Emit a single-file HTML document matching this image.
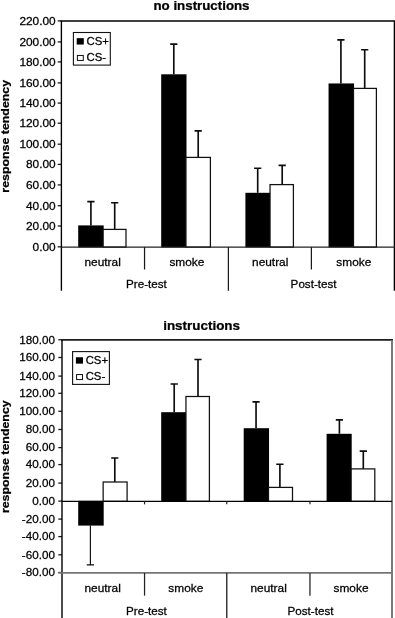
<!DOCTYPE html>
<html><head><meta charset="utf-8"><title>response tendency</title>
<style>
html,body{margin:0;padding:0;background:#fff;}
body{width:395px;height:618px;overflow:hidden;font-family:"Liberation Sans",sans-serif;}
svg{display:block;filter:grayscale(1);}
text{font-family:"Liberation Sans",sans-serif;fill:#000;stroke:#000;stroke-width:0.25px;}
.b{font-weight:bold;}
</style></head><body>
<svg width="395" height="618" viewBox="0 0 395 618">
<rect x="0" y="0" width="395" height="618" fill="#fff"/>
<g>
<text class="b" transform="translate(201.5 10) scale(1.11 1)" font-size="12" text-anchor="middle">no instructions</text>
<text class="b" transform="translate(8.6 136.3) rotate(-90) scale(1.18 1)" font-size="10.5" text-anchor="middle">response tendency</text>
<text transform="translate(55.7 24.8) scale(1.08 1)" font-size="11" text-anchor="end">220.00</text>
<line x1="57.7" y1="20.9" x2="61.4" y2="20.9" stroke="#1c1c1c" stroke-width="1.3"/>
<text transform="translate(55.7 45.8) scale(1.08 1)" font-size="11" text-anchor="end">200.00</text>
<line x1="57.7" y1="41.9" x2="61.4" y2="41.9" stroke="#1c1c1c" stroke-width="1.3"/>
<text transform="translate(55.7 65.8) scale(1.08 1)" font-size="11" text-anchor="end">180.00</text>
<line x1="57.7" y1="61.9" x2="61.4" y2="61.9" stroke="#1c1c1c" stroke-width="1.3"/>
<text transform="translate(55.7 86.8) scale(1.08 1)" font-size="11" text-anchor="end">160.00</text>
<line x1="57.7" y1="82.9" x2="61.4" y2="82.9" stroke="#1c1c1c" stroke-width="1.3"/>
<text transform="translate(55.7 107) scale(1.08 1)" font-size="11" text-anchor="end">140.00</text>
<line x1="57.7" y1="103.1" x2="61.4" y2="103.1" stroke="#1c1c1c" stroke-width="1.3"/>
<text transform="translate(55.7 127.1) scale(1.08 1)" font-size="11" text-anchor="end">120.00</text>
<line x1="57.7" y1="123.2" x2="61.4" y2="123.2" stroke="#1c1c1c" stroke-width="1.3"/>
<text transform="translate(55.7 148.1) scale(1.08 1)" font-size="11" text-anchor="end">100.00</text>
<line x1="57.7" y1="144.2" x2="61.4" y2="144.2" stroke="#1c1c1c" stroke-width="1.3"/>
<text transform="translate(55.7 168.3) scale(1.08 1)" font-size="11" text-anchor="end">80.00</text>
<line x1="57.7" y1="164.4" x2="61.4" y2="164.4" stroke="#1c1c1c" stroke-width="1.3"/>
<text transform="translate(55.7 188.8) scale(1.08 1)" font-size="11" text-anchor="end">60.00</text>
<line x1="57.7" y1="184.9" x2="61.4" y2="184.9" stroke="#1c1c1c" stroke-width="1.3"/>
<text transform="translate(55.7 209.6) scale(1.08 1)" font-size="11" text-anchor="end">40.00</text>
<line x1="57.7" y1="205.7" x2="61.4" y2="205.7" stroke="#1c1c1c" stroke-width="1.3"/>
<text transform="translate(55.7 229.9) scale(1.08 1)" font-size="11" text-anchor="end">20.00</text>
<line x1="57.7" y1="226" x2="61.4" y2="226" stroke="#1c1c1c" stroke-width="1.3"/>
<text transform="translate(55.7 250.75) scale(1.08 1)" font-size="11" text-anchor="end">0.00</text>
<line x1="57.7" y1="246.85" x2="61.4" y2="246.85" stroke="#1c1c1c" stroke-width="1.3"/>
<path d="M90.9 225.4V201.6M87.3 201.6H94.5" stroke="#0c0c0c" stroke-width="1.65" fill="none"/>
<path d="M114.7 229.4V202.7M111.1 202.7H118.3" stroke="#0c0c0c" stroke-width="1.65" fill="none"/>
<rect x="78.2" y="225.4" width="25.5" height="22" fill="#000"/>
<rect x="103.15" y="229.4" width="22.85" height="17.7" fill="#fff" stroke="#111" stroke-width="1.25"/>
<path d="M173.8 74.3V44.05M170.2 44.05H177.4" stroke="#0c0c0c" stroke-width="1.65" fill="none"/>
<path d="M198.2 157.4V130.9M194.6 130.9H201.8" stroke="#0c0c0c" stroke-width="1.65" fill="none"/>
<rect x="161.2" y="74.3" width="25.3" height="173.1" fill="#000"/>
<rect x="185.95" y="157.4" width="24.45" height="89.7" fill="#fff" stroke="#111" stroke-width="1.25"/>
<path d="M257.7 192.8V168.2M254.1 168.2H261.3" stroke="#0c0c0c" stroke-width="1.65" fill="none"/>
<path d="M282.2 184.6V165.4M278.6 165.4H285.8" stroke="#0c0c0c" stroke-width="1.65" fill="none"/>
<rect x="245.4" y="192.8" width="25.2" height="54.6" fill="#000"/>
<rect x="270.05" y="184.6" width="23.35" height="62.5" fill="#fff" stroke="#111" stroke-width="1.25"/>
<path d="M340.9 83.45V39.9M337.3 39.9H344.5" stroke="#0c0c0c" stroke-width="1.65" fill="none"/>
<path d="M364.7 88.4V49.7M361.1 49.7H368.3" stroke="#0c0c0c" stroke-width="1.65" fill="none"/>
<rect x="328.55" y="83.45" width="25.5" height="163.95" fill="#000"/>
<rect x="353.5" y="88.4" width="22.9" height="158.7" fill="#fff" stroke="#111" stroke-width="1.25"/>
<line x1="60.6" y1="21" x2="395.3" y2="21" stroke="#000" stroke-width="1.5"/>
<line x1="61.4" y1="21" x2="61.4" y2="290.8" stroke="#000" stroke-width="1.35"/>
<line x1="394.5" y1="21" x2="394.5" y2="290.8" stroke="#000" stroke-width="1.6"/>
<line x1="61.4" y1="247.1" x2="394.5" y2="247.1" stroke="#222" stroke-width="1.3"/>
<line x1="144.55" y1="247.1" x2="144.55" y2="269.5" stroke="#1a1a1a" stroke-width="1.25"/>
<line x1="228.4" y1="247.1" x2="228.4" y2="290.8" stroke="#1a1a1a" stroke-width="1.25"/>
<line x1="311.4" y1="247.1" x2="311.4" y2="269.5" stroke="#1a1a1a" stroke-width="1.25"/>
<text transform="translate(102.65 266.4) scale(1.08 1)" font-size="11" text-anchor="middle">neutral</text>
<text transform="translate(186.9 266.4) scale(1.08 1)" font-size="11" text-anchor="middle">smoke</text>
<text transform="translate(270.2 266.4) scale(1.08 1)" font-size="11" text-anchor="middle">neutral</text>
<text transform="translate(353.8 266.4) scale(1.08 1)" font-size="11" text-anchor="middle">smoke</text>
<text transform="translate(146.4 287.6) scale(1.06 1)" font-size="11" text-anchor="middle">Pre-test</text>
<text transform="translate(313.6 287.6) scale(1.06 1)" font-size="11" text-anchor="middle">Post-test</text>
<rect x="73.4" y="32.5" width="36.9" height="32.6" fill="#fff" stroke="#111" stroke-width="1.1"/>
<rect x="76.7" y="38.15" width="7.1" height="6.4" fill="#000"/>
<rect x="77.4" y="55.45" width="5.9" height="5" fill="#fff" stroke="#111" stroke-width="1"/>
<text transform="translate(86.5 44.6) scale(1.08 1)" font-size="10.5" text-anchor="start">CS+</text>
<text transform="translate(86.5 60.75) scale(1.08 1)" font-size="10.5" text-anchor="start">CS-</text>
</g>
<g>
<text class="b" transform="translate(201.6 330) scale(1.12 1)" font-size="12" text-anchor="middle">instructions</text>
<text class="b" transform="translate(8.6 456.7) rotate(-90) scale(1.18 1)" font-size="10.5" text-anchor="middle">response tendency</text>
<text transform="translate(54.9 343.55) scale(1.08 1)" font-size="10.8" text-anchor="end">180.00</text>
<line x1="58.3" y1="339.75" x2="62" y2="339.75" stroke="#1c1c1c" stroke-width="1.3"/>
<text transform="translate(54.9 361.3) scale(1.08 1)" font-size="10.8" text-anchor="end">160.00</text>
<line x1="58.3" y1="357.5" x2="62" y2="357.5" stroke="#1c1c1c" stroke-width="1.3"/>
<text transform="translate(54.9 379.9) scale(1.08 1)" font-size="10.8" text-anchor="end">140.00</text>
<line x1="58.3" y1="376.1" x2="62" y2="376.1" stroke="#1c1c1c" stroke-width="1.3"/>
<text transform="translate(54.9 397.1) scale(1.08 1)" font-size="10.8" text-anchor="end">120.00</text>
<line x1="58.3" y1="393.3" x2="62" y2="393.3" stroke="#1c1c1c" stroke-width="1.3"/>
<text transform="translate(54.9 415.1) scale(1.08 1)" font-size="10.8" text-anchor="end">100.00</text>
<line x1="58.3" y1="411.3" x2="62" y2="411.3" stroke="#1c1c1c" stroke-width="1.3"/>
<text transform="translate(54.9 433.3) scale(1.08 1)" font-size="10.8" text-anchor="end">80.00</text>
<line x1="58.3" y1="429.5" x2="62" y2="429.5" stroke="#1c1c1c" stroke-width="1.3"/>
<text transform="translate(54.9 451.4) scale(1.08 1)" font-size="10.8" text-anchor="end">60.00</text>
<line x1="58.3" y1="447.6" x2="62" y2="447.6" stroke="#1c1c1c" stroke-width="1.3"/>
<text transform="translate(54.9 468.4) scale(1.08 1)" font-size="10.8" text-anchor="end">40.00</text>
<line x1="58.3" y1="464.6" x2="62" y2="464.6" stroke="#1c1c1c" stroke-width="1.3"/>
<text transform="translate(54.9 486.9) scale(1.08 1)" font-size="10.8" text-anchor="end">20.00</text>
<line x1="58.3" y1="483.1" x2="62" y2="483.1" stroke="#1c1c1c" stroke-width="1.3"/>
<text transform="translate(54.9 504.9) scale(1.08 1)" font-size="10.8" text-anchor="end">0.00</text>
<line x1="58.3" y1="501.1" x2="62" y2="501.1" stroke="#1c1c1c" stroke-width="1.3"/>
<text transform="translate(54.9 522.9) scale(1.08 1)" font-size="10.8" text-anchor="end">-20.00</text>
<line x1="58.3" y1="519.1" x2="62" y2="519.1" stroke="#1c1c1c" stroke-width="1.3"/>
<text transform="translate(54.9 540.4) scale(1.08 1)" font-size="10.8" text-anchor="end">-40.00</text>
<line x1="58.3" y1="536.6" x2="62" y2="536.6" stroke="#1c1c1c" stroke-width="1.3"/>
<text transform="translate(54.9 558.6) scale(1.08 1)" font-size="10.8" text-anchor="end">-60.00</text>
<line x1="58.3" y1="554.8" x2="62" y2="554.8" stroke="#1c1c1c" stroke-width="1.3"/>
<text transform="translate(54.9 576.3) scale(1.08 1)" font-size="10.8" text-anchor="end">-80.00</text>
<line x1="58.3" y1="572.5" x2="62" y2="572.5" stroke="#1c1c1c" stroke-width="1.3"/>
<path d="M90.4 525.6V564.9M86.8 564.9H94" stroke="#0c0c0c" stroke-width="1.15" fill="none"/>
<path d="M114.8 482V458M111.2 458H118.4" stroke="#0c0c0c" stroke-width="1.65" fill="none"/>
<rect x="78.2" y="500.85" width="25.5" height="24.75" fill="#000"/>
<rect x="103.15" y="482" width="23.95" height="19.35" fill="#fff" stroke="#111" stroke-width="1.25"/>
<path d="M174.2 412.2V384M170.6 384H177.8" stroke="#0c0c0c" stroke-width="1.65" fill="none"/>
<path d="M198 396.5V359.5M194.4 359.5H201.6" stroke="#0c0c0c" stroke-width="1.65" fill="none"/>
<rect x="161.2" y="412.2" width="25.3" height="89.45" fill="#000"/>
<rect x="185.95" y="396.5" width="23.45" height="104.85" fill="#fff" stroke="#111" stroke-width="1.25"/>
<path d="M256.05 428.2V401.8M252.45 401.8H259.65" stroke="#0c0c0c" stroke-width="1.65" fill="none"/>
<path d="M279.9 487.4V464.2M276.3 464.2H283.5" stroke="#0c0c0c" stroke-width="1.65" fill="none"/>
<rect x="243.7" y="428.2" width="25.35" height="73.45" fill="#000"/>
<rect x="268.5" y="487.4" width="24" height="13.95" fill="#fff" stroke="#111" stroke-width="1.25"/>
<path d="M339.4 433.8V419.8M335.8 419.8H343" stroke="#0c0c0c" stroke-width="1.65" fill="none"/>
<path d="M363.3 468.9V451.05M359.7 451.05H366.9" stroke="#0c0c0c" stroke-width="1.65" fill="none"/>
<rect x="326.6" y="433.8" width="25.1" height="67.85" fill="#000"/>
<rect x="351.15" y="468.9" width="23.65" height="32.45" fill="#fff" stroke="#111" stroke-width="1.25"/>
<line x1="61.2" y1="339.9" x2="393" y2="339.9" stroke="#1c1c1c" stroke-width="1.6"/>
<line x1="62" y1="339.9" x2="62" y2="618" stroke="#000" stroke-width="1.4"/>
<line x1="392" y1="339.9" x2="392" y2="618" stroke="#6c6c6c" stroke-width="1.8"/>
<line x1="62" y1="501.35" x2="392" y2="501.35" stroke="#000" stroke-width="1.3"/>
<line x1="144.55" y1="501.35" x2="144.55" y2="504.35" stroke="#222" stroke-width="1.2"/>
<line x1="226.75" y1="501.35" x2="226.75" y2="504.35" stroke="#222" stroke-width="1.2"/>
<line x1="309.95" y1="501.35" x2="309.95" y2="504.35" stroke="#222" stroke-width="1.2"/>
<line x1="58.4" y1="572.85" x2="393" y2="572.85" stroke="#747474" stroke-width="1.8"/>
<line x1="144.55" y1="572.85" x2="144.55" y2="595.65" stroke="#222" stroke-width="1.25"/>
<line x1="226.75" y1="572.85" x2="226.75" y2="618" stroke="#333" stroke-width="1.45"/>
<line x1="309.95" y1="572.85" x2="309.95" y2="595.65" stroke="#555" stroke-width="1.65"/>
<text transform="translate(102.65 592.4) scale(1.08 1)" font-size="11" text-anchor="middle">neutral</text>
<text transform="translate(185.85 592.4) scale(1.08 1)" font-size="11" text-anchor="middle">smoke</text>
<text transform="translate(268.65 592.4) scale(1.08 1)" font-size="11" text-anchor="middle">neutral</text>
<text transform="translate(351 592.4) scale(1.08 1)" font-size="11" text-anchor="middle">smoke</text>
<text transform="translate(146.4 614.5) scale(1.06 1)" font-size="11" text-anchor="middle">Pre-test</text>
<text transform="translate(310.45 614.5) scale(1.06 1)" font-size="11" text-anchor="middle">Post-test</text>
<rect x="72.6" y="351.6" width="36.8" height="32.8" fill="#fff" stroke="#111" stroke-width="1.1"/>
<rect x="75.9" y="357.25" width="7.1" height="6.4" fill="#000"/>
<rect x="76.6" y="374.55" width="5.9" height="5" fill="#fff" stroke="#111" stroke-width="1"/>
<text transform="translate(85.7 363.7) scale(1.08 1)" font-size="10.5" text-anchor="start">CS+</text>
<text transform="translate(85.7 379.85) scale(1.08 1)" font-size="10.5" text-anchor="start">CS-</text>
</g>
</svg>
</body></html>
